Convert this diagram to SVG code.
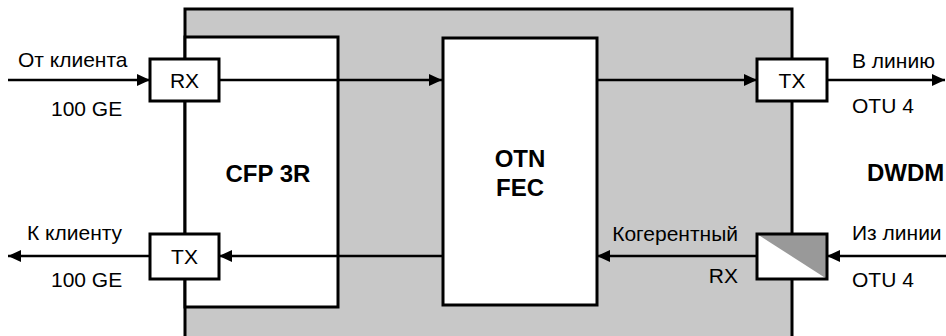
<svg xmlns="http://www.w3.org/2000/svg" width="946" height="336" viewBox="0 0 946 336">
<style>
.blk{stroke:#000;stroke-width:3;}
.ln{stroke:#000;stroke-width:2.5;fill:none;}
.t{font-family:"Liberation Sans",Arial,sans-serif;font-size:21px;fill:#000;}
.b{font-family:"Liberation Sans",Arial,sans-serif;font-size:24px;font-weight:bold;fill:#000;}
</style>
<defs>
<marker id="ah" viewBox="0 0 13 12" refX="13" refY="6" markerWidth="13" markerHeight="12" markerUnits="userSpaceOnUse" orient="auto">
<path d="M0,0 L13,6 L0,12 Z" fill="#000"/>
</marker>
</defs>
<rect width="946" height="336" fill="#fff"/>
<g id="dwdm">
<rect x="185" y="9" width="607" height="340" fill="#c8c8c8" class="blk"/>
<text x="867" y="181" class="b">DWDM</text>
</g>
<g id="cfp">
<rect x="185" y="37" width="153" height="270" fill="#fff" class="blk"/>
<text x="268" y="182" class="b" text-anchor="middle">CFP 3R</text>
</g>
<g id="otn">
<rect x="443" y="38" width="154" height="267" fill="#fff" class="blk"/>
<text x="520" y="167" class="b" text-anchor="middle">OTN</text>
<text x="520" y="196" class="b" text-anchor="middle">FEC</text>
</g>
<g id="connectors">
<line x1="8" y1="80" x2="150" y2="80" class="ln" marker-end="url(#ah)"/>
<line x1="219" y1="80" x2="442" y2="80" class="ln" marker-end="url(#ah)"/>
<line x1="597" y1="80" x2="757" y2="80" class="ln" marker-end="url(#ah)"/>
<line x1="827" y1="80" x2="945" y2="80" class="ln" marker-end="url(#ah)"/>
<line x1="946" y1="256" x2="827" y2="256" class="ln" marker-end="url(#ah)"/>
<line x1="757" y1="256" x2="597" y2="256" class="ln" marker-end="url(#ah)"/>
<line x1="443" y1="256" x2="219" y2="256" class="ln" marker-end="url(#ah)"/>
<line x1="150" y1="256" x2="8" y2="256" class="ln" marker-end="url(#ah)"/>
</g>
<g id="rx-client">
<rect x="150" y="59" width="69" height="42" fill="#fff" class="blk"/>
<text x="184.5" y="88" class="t" text-anchor="middle">RX</text>
</g>
<g id="tx-client">
<rect x="150" y="234" width="69" height="45" fill="#fff" class="blk"/>
<text x="184.5" y="264" class="t" text-anchor="middle">TX</text>
</g>
<g id="tx-line">
<rect x="757" y="59" width="70" height="42" fill="#fff" class="blk"/>
<text x="792" y="88" class="t" text-anchor="middle">TX</text>
</g>
<g id="rx-coherent">
<rect x="757" y="234" width="70" height="45" fill="#fff"/>
<polygon points="757,234 827,234 827,279" fill="#999"/>
<rect x="757" y="234" width="70" height="45" fill="none" class="blk"/>
<text x="738" y="241" class="t" text-anchor="end">Когерентный</text>
<text x="738" y="283" class="t" text-anchor="end">RX</text>
</g>
<g id="labels">
<text x="18" y="67" class="t">От клиента</text>
<text x="51" y="116" class="t">100 GE</text>
<text x="27" y="240" class="t">К клиенту</text>
<text x="51" y="287" class="t">100 GE</text>
<text x="852" y="68" class="t">В линию</text>
<text x="852" y="113" class="t">OTU 4</text>
<text x="852" y="240" class="t">Из линии</text>
<text x="852" y="287" class="t">OTU 4</text>
</g>
</svg>
